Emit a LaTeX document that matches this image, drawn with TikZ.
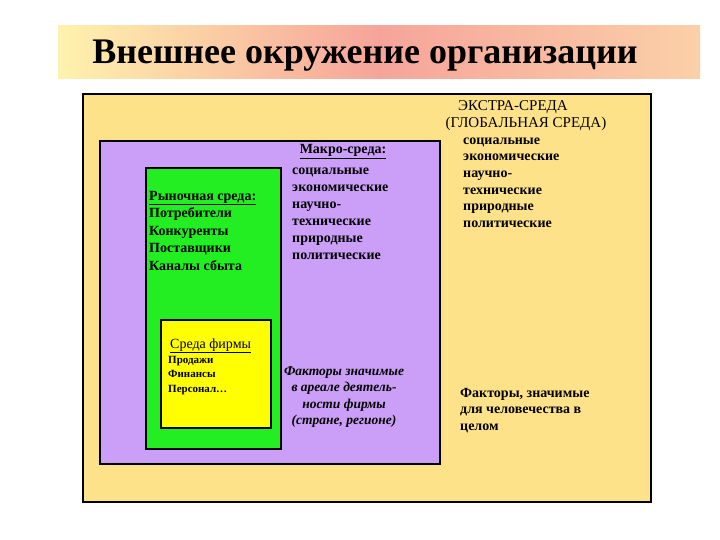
\documentclass[tikz,border=0pt]{standalone}
\usepackage{fontspec}
\setmainfont{Liberation Serif}
\usepackage{xcolor}
\definecolor{extra}{HTML}{FDE28A}
\definecolor{macro}{HTML}{CB9EF7}
\definecolor{market}{HTML}{22EE22}
\definecolor{firm}{HTML}{FFFF00}
\definecolor{bandL}{HTML}{FFF2AE}
\definecolor{bandM}{HTML}{F6A49A}
\definecolor{bandR}{HTML}{FBD0A8}
\usetikzlibrary{positioning}

\begin{document}
\begin{tikzpicture}[x=1pt,y=-1pt,
  env/.style={draw=black,line width=1.8pt,anchor=north west,inner sep=0pt},
  lst/.style={anchor=base west,align=left,inner sep=0pt,font=\fontsize{14}{17}\selectfont\bfseries},
  hd/.style={anchor=base,inner sep=0pt,font=\fontsize{15}{17}\selectfont}]
  \useasboundingbox (0,0) rectangle (720,540);
  % title band
  \node[anchor=north west,inner sep=0pt,minimum width=642pt,minimum height=53pt,
    left color=bandL,right color=bandR,middle color=bandM] (band) at (58,25) {};
  \node[font=\fontsize{36}{40}\selectfont\bfseries,anchor=base] (title) at (365,64) {Внешнее окружение организации};
  % nested environments
  \node[env,fill=extra,minimum width=568pt,minimum height=408pt] (extrabox) at (82,93) {};
  \node[env,fill=macro,minimum width=340pt,minimum height=323pt] (macrobox) at (99,140) {};
  \node[env,fill=market,minimum width=135pt,minimum height=281pt] (marketbox) at (145,167) {};
  \node[env,fill=firm,minimum width=110pt,minimum height=108pt] (firmbox) at (160,319) {};
  % texts (base = last line)
  \node[lst,font=\fontsize{14}{17.5}\selectfont\bfseries] (market) at (149,270)
    {\underline{Рыночная среда:}\\Потребители\\Конкуренты\\Поставщики\\Каналы сбыта};
  \node[hd,font=\fontsize{14}{17}\selectfont\bfseries] (macrohd) at (343,154) {\underline{Макро-среда:}};
  \node[lst] (macro) at (292,259) {социальные\\экономические\\научно-\\технические\\природные\\политические};
  \node[hd] (extrahd) at (513,111) {ЭКСТРА-СРЕДА};
  \node[hd] (globalhd) at (526,128) {(ГЛОБАЛЬНАЯ СРЕДА)};
  \node[lst,font=\fontsize{14}{16.7}\selectfont\bfseries] (extra) at (463,227.5) {социальные\\экономические\\научно-\\технические\\природные\\политические};
  \node[hd,anchor=base west,font=\fontsize{14}{17}\selectfont] (firmhd) at (170,348) {\underline{Среда фирмы}};
  \node[lst,font=\fontsize{11}{14.5}\selectfont\bfseries] (firm) at (168,392) {Продажи\\Финансы\\Персонал…};
  \node[lst,align=center,anchor=base,font=\fontsize{13.5}{16.5}\selectfont\bfseries\itshape] (macronote) at (344,424.5)
    {Факторы значимые\\в ареале деятель-\\ности фирмы\\(стране, регионе)};
  \node[lst,font=\fontsize{14}{16.5}\selectfont\bfseries] (extranote) at (460,430) {Факторы, значимые\\для человечества в\\целом};
\end{tikzpicture}
\end{document}
